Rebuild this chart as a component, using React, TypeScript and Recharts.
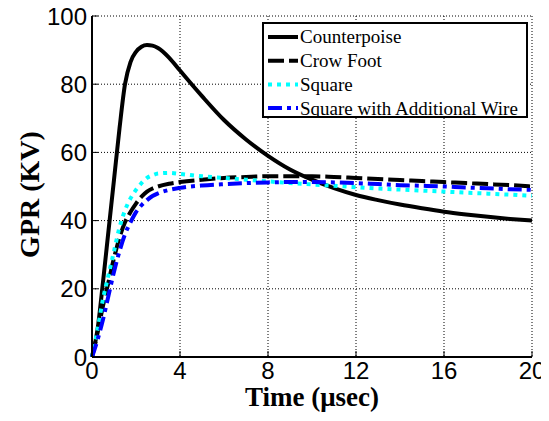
import React from 'react';
import { LineChart, Line, XAxis, YAxis, CartesianGrid, Legend } from 'recharts';

// time axis in microseconds
const time = [0, 0.25, 0.5, 0.75, 1, 1.25, 1.5, 1.75, 2, 2.25, 2.5, 2.75, 3, 3.5, 4, 5, 6, 7, 8, 9, 10, 11, 12, 13, 14, 15, 16, 17, 18, 19, 20];

// GPR values (kV)
const counterpoise = [0, 8, 22, 37, 52, 67, 80, 86.5, 89.5, 91, 91.5, 91.3, 90.6, 87.8, 84, 76.5, 69.5, 63.8, 59, 55, 52, 49.5, 47.5, 46, 44.7, 43.6, 42.6, 41.8, 41.1, 40.5, 40];
const crowFoot = [0, 7, 15, 22, 29, 35, 39.5, 42.5, 45, 47, 48.5, 49.4, 50, 50.8, 51.3, 52, 52.5, 52.8, 53, 53, 53, 52.8, 52.5, 52.2, 51.9, 51.6, 51.3, 51, 50.7, 50.4, 50];
const square = [0, 8, 17, 24, 31, 38, 43, 46.5, 49, 51, 52.5, 53.3, 53.8, 54, 53.7, 53, 52.5, 52, 51.5, 51, 50.6, 50.2, 49.8, 49.4, 49.1, 48.8, 48.5, 48.2, 47.9, 47.6, 47.3];
const squareWire = [0, 5, 11, 18, 25, 31, 36, 39.5, 42.5, 44.5, 46, 47.2, 48, 49, 49.6, 50.3, 50.7, 51, 51.2, 51.3, 51.3, 51.2, 51, 50.7, 50.4, 50.2, 50, 49.7, 49.5, 49.2, 49];

const xTicks = [0, 4, 8, 12, 16, 20];
const yTicks = [0, 20, 40, 60, 80, 100];

const series = [
  { key: 'counterpoise', name: 'Counterpoise', color: '#000000', dash: undefined },
  { key: 'crowFoot', name: 'Crow Foot', color: '#000000', dash: '16 5' },
  { key: 'square', name: 'Square', color: '#00ffff', dash: '4 5' },
  { key: 'squareWire', name: 'Square with Additional Wire', color: '#0000ff', dash: '14 5 4 5' },
];

const data = time.map((t, i) => ({
  t,
  counterpoise: counterpoise[i],
  crowFoot: crowFoot[i],
  square: square[i],
  squareWire: squareWire[i],
}));

const sans = "'Liberation Sans', Arial, sans-serif";
const serif = "'Liberation Serif', 'Times New Roman', serif";

const BottomTick = (props: any) => {
  const { x, y, payload } = props;
  return (
    <g>
      <line x1={x} x2={x} y1={y - 5} y2={y - 11} stroke="#000" strokeWidth={1} />
      <text x={x} y={y} dy="0.71em" textAnchor="middle" fontSize={24} fontFamily={sans} fill="#000">
        {payload.value}
      </text>
    </g>
  );
};

const LeftTick = (props: any) => {
  const { x, y, payload } = props;
  return (
    <g>
      <line x1={x + 5} x2={x + 11} y1={y} y2={y} stroke="#000" strokeWidth={1} />
      <text x={x} y={y} dy="0.355em" textAnchor="end" fontSize={24} fontFamily={sans} fill="#000">
        {payload.value}
      </text>
    </g>
  );
};

const TopTick = (props: any) => {
  const { x, y } = props;
  return <line x1={x} x2={x} y1={y} y2={y + 6} stroke="#000" strokeWidth={1} />;
};

const RightTick = (props: any) => {
  const { x, y } = props;
  return <line x1={x} x2={x - 6} y1={y} y2={y} stroke="#000" strokeWidth={1} />;
};

// legend box drawn as svg so it uses the same fonts as the axes
const renderLegend = () => (
  <svg width={266} height={96} style={{ display: 'block' }}>
    <rect x={1} y={1} width={264} height={94} fill="#fff" stroke="#000" strokeWidth={2} />
    {series.map((s, i) => {
      const cy = 15 + i * 23.7;
      return (
        <g key={s.key}>
          <line x1={6} x2={36} y1={cy} y2={cy} stroke={s.color} strokeWidth={4} strokeDasharray={s.dash} />
          <text x={38} y={cy} dy="0.34em" fontFamily={serif} fontSize={19} fill="#000">
            {s.name}
          </text>
        </g>
      );
    })}
  </svg>
);

const YLabel = (props: any) => {
  const { viewBox } = props;
  const cx = viewBox.x + 29;
  const cy = viewBox.y + viewBox.height / 2 + 8;
  return (
    <text
      x={cx}
      y={cy}
      transform={`rotate(-90 ${cx} ${cy})`}
      textAnchor="middle"
      dominantBaseline="central"
      fontSize={28}
      fontWeight="bold"
      fontFamily={serif}
      fill="#000"
    >
      GPR (KV)
    </text>
  );
};

const XLabel = (props: any) => {
  const { viewBox } = props;
  return (
    <text
      x={viewBox.x + viewBox.width / 2}
      y={viewBox.y + 49}
      textAnchor="middle"
      fontSize={27}
      fontWeight="bold"
      fontFamily={serif}
      fill="#000"
    >
      Time (μsec)
    </text>
  );
};

export default function App() {
  return (
    <div style={{ position: 'relative', width: 549, height: 421, margin: '-8px 0 0 -8px' }}>
      <LineChart width={549} height={421} data={data} margin={{ top: 16, right: 17, bottom: 0, left: 0 }}>
        <CartesianGrid stroke="#000" strokeDasharray="1 2" strokeWidth={1} />
        <XAxis
          dataKey="t"
          type="number"
          domain={[0, 20]}
          ticks={xTicks}
          height={64}
          tickSize={0}
          tickMargin={5}
          tickLine={false}
          axisLine={{ stroke: '#000', strokeWidth: 2 }}
          tick={<BottomTick />}
          label={<XLabel />}
        />
        <XAxis
          xAxisId="top"
          orientation="top"
          type="number"
          domain={[0, 20]}
          ticks={xTicks}
          height={0}
          tickSize={0}
          tickMargin={0}
          tickLine={false}
          axisLine={{ stroke: '#000', strokeWidth: 2 }}
          tick={<TopTick />}
        />
        <YAxis
          type="number"
          domain={[0, 100]}
          ticks={yTicks}
          width={92}
          tickSize={0}
          tickMargin={5}
          tickLine={false}
          axisLine={{ stroke: '#000', strokeWidth: 2 }}
          tick={<LeftTick />}
          label={<YLabel />}
        />
        <YAxis
          yAxisId="right"
          orientation="right"
          type="number"
          domain={[0, 100]}
          ticks={yTicks}
          width={0}
          tickSize={0}
          tickMargin={0}
          tickLine={false}
          axisLine={{ stroke: '#000', strokeWidth: 2 }}
          tick={<RightTick />}
        />
        <Legend
          layout="horizontal"
          verticalAlign="middle"
          align="center"
          content={renderLegend}
          wrapperStyle={{ position: 'absolute', left: 262, top: 22, width: 266, height: 96 }}
        />
        {series.map((s) => (
          <Line
            key={s.key}
            dataKey={s.key}
            name={s.name}
            type="monotone"
            stroke={s.color}
            strokeWidth={4}
            strokeDasharray={s.dash}
            dot={false}
            activeDot={false}
            isAnimationActive={false}
          />
        ))}
      </LineChart>
    </div>
  );
}
